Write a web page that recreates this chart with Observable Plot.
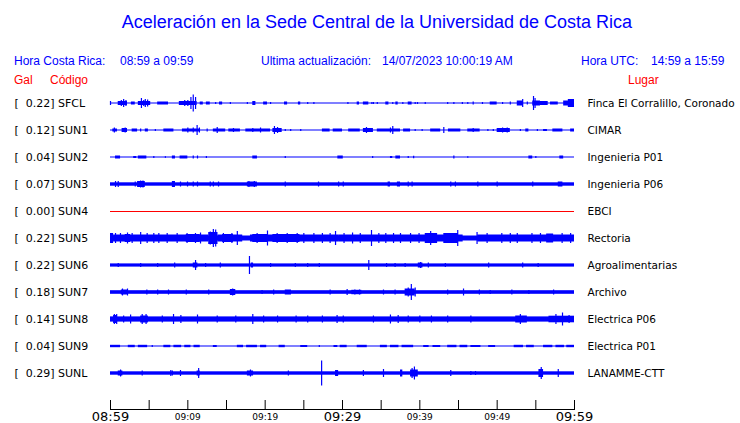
<!DOCTYPE html>
<html><head><meta charset="utf-8">
<script src="https://cdn.jsdelivr.net/npm/d3@7"></script>
<script src="https://cdn.jsdelivr.net/npm/@observablehq/plot@0.6"></script>
<style>
body{margin:0;background:#fff;}
#wrap{position:relative;width:740px;height:423px;overflow:hidden;font-family:"Liberation Sans",Arial,sans-serif;}
.t{position:absolute;white-space:pre;line-height:1;font-size:12px;}
.b{color:#0000ff;} .r{color:#ff0000;}
</style></head><body><div id="wrap"></div>
<script>
// ---- data ----
const title = "Aceleración en la Sede Central de la Universidad de Costa Rica";
const codes = ["SFCL","SUN1","SUN2","SUN3","SUN4","SUN5","SUN6","SUN7","SUN8","SUN9","SUNL"];
const gal = [0.22,0.12,0.04,0.07,0.00,0.22,0.22,0.18,0.14,0.04,0.29];
const places = ["Finca El Corralillo, Coronado","CIMAR","Ingenieria P01","Ingenieria P06","EBCI","Rectoria","Agroalimentarias","Archivo","Electrica P06","Electrica P01","LANAMME-CTT"];
// background trace half-amplitude (counts), per station
const floorAmp = [0.5,0.5,0.5,1.7,0,2.5,1.6,1.8,2.6,0.5,1.7];
const deadStations = ["SUN4"];
// tick positions in minutes after 08:59
const tickMinutes = [0,5,10,15,20,25,30,35,40,45,50,55,60];
const majorMinutes = [0,30,60];
const majorLabels = ["08:59","09:29","09:59"];
const minorMinutes = [10,20,40,50];
const minorLabels = ["09:09","09:19","09:39","09:49"];
// events: [t0, t1, amp] = burst between minutes, [t, amp] = single spike
const sfcl = [[0,2],[1.0,2.2,2],[1.4,3],[1.7,4],[2.0,3],[2.7,3.2,1.5],[3.6,5.2,2],[4.0,5],[4.3,3],[4.5,4],[4.8,3.5],
 [6.1,7.5,1.5],[8.9,11.2,2],[9.6,3],[10.0,3],[10.4,6],[10.7,8.5],[11.0,6],[11.6,12.0,1.5],[12.4,12.9,1.5],[13.6,1],
 [14.1,14.5,1.5],[15.5,1],[17.7,1],[18.4,18.8,2],[19.8,20.3,1.5],[20.7,1],[22.5,22.9,1.5],[24.3,24.6,1.5],[25.5,1],[26.3,1],
 [30.7,1],[31.9,32.2,1.5],[32.7,33.4,1.5],[33.8,1],[34.0,1],[34.5,1],[35.6,36.0,1.5],[36.5,1],[36.9,37.2,1.5],[37.8,1],
 [38.5,39.0,1.5],[39.4,1],[39.7,1],[40.7,1],[43.6,1],[44.4,1],[45.5,1],[46.2,1],[46.9,1.5],[48.1,1],[49.1,50.0,1.5],
 [50.7,1],[51.7,1.5],[52.6,53.4,2.5],[53.3,4],[53.9,1.5],[54.6,55.6,2.5],[54.7,7],[54.9,5],[55.6,56.6,2],[56.9,57.9,1.5],
 [58.6,60,2.5],[59.2,60,4]];
const sun1 = [[0.3,0.9,1.5],[0.5,2.5],[1.5,2.2,2],[1.9,2.5],[2.8,3.5,1.5],[3.9,1.5],[4.5,4.9,1.5],[5.8,1],[6.9,8.2,1.5],
 [9.3,11.6,1.5],[10.0,2.5],[10.7,2.5],[11.2,5],[11.5,2.5],[12.5,1.5],[13.3,14.9,1.5],[13.8,3],[15.3,16.8,1.5],[15.9,2],
 [17.5,20.7,1.5],[18.4,2],[19.4,2.5],[21.0,22.2,2],[21.2,4],[21.6,3],[22.6,1],[23.3,1],[24.6,1],[27.4,28.4,1.5],[28.8,30.0,1.5],
 [30.8,32.3,1.5],[32.7,34.0,2],[33.1,3],[34.5,37.5,1.5],[36.2,2.5],[36.5,4],[37.9,38.8,1.5],[39.4,1],[40.3,1],[41.4,42.7,1.5],
 [43.1,3],[43.7,45.3,1.5],[46.2,47.8,1.5],[46.9,2],[48.8,1],[49.5,1],[50.0,51.7,2],[50.7,2.5],[51.3,2.5],[53.0,1],
 [53.7,54.1,1.5],[55.2,1],[56.0,56.5,1],[57.2,58.5,1.5],[59.5,60,1.5]];
const sun2 = [[0.65,1.3,1.5],[3.0,3.4,1],[3.6,4.7,1.5],[5.6,1],[7.1,0.8],[8.0,8.4,1.5],[9.0,10.0,1.5],[10.7,1.5],[11.25,1.5],
 [12.4,1],[18.4,19.0,1.5],[22.6,1],[29.4,30.1,1.5],[33.9,1],[36.2,36.5,1],[36.9,37.5,1.5],[38.5,1],[39.2,1.2],[44.4,1.5],
 [46.2,0.8],[54.1,54.6,1.5],[55.0,1],[58.1,58.6,1.5]];
const sun3 = [[0.65,3],[1.0,3],[3.2,2.5],[3.5,4.5,3],[3.9,3.5],[4.2,3.5],[8.0,8.4,3],[9.05,2.5],[9.96,2.5],[10.7,2.5],[11.25,2.5],
 [12.9,2.5],[13.3,2.5],[13.97,2.5],[17.7,19.0,2.5],[17.9,3],[18.6,3],[22.6,2.5],[26.9,2.5],[29.5,2.5],[30.1,2.5],[35.9,36.2,2.5],
 [37.1,37.5,2.5],[38.5,2.5],[39.0,2.5],[44.0,2.5],[44.6,2.5],[47.5,2.5],[50.0,2.5],[54.6,2.5],[57.9,58.5,2.5]];
const sun4 = [];
const sun5 = [[0,0.4,5],[0.4,12.7,3.5],[1.9,2.6,4],[0.65,5],[1.29,5],[2.2,5.5],[2.8,5],[3.9,6],[4.74,5],[5.6,5],[6.25,5],[7.33,5],
 [8.62,5],[9.8,11.6,4],[9.9,5],[10.99,5],[11.64,5.5],[12.7,13.9,6],[12.9,6.5],[13.3,9],[13.6,8.5],[13.9,17.1,3.5],[14.5,15.9,4],
 [14.6,5],[15.7,5],[16.4,7],[18.1,29.5,3.5],[18.4,20.3,4],[18.96,5],[20.3,7.5],[21.0,24.5,4],[21.55,5],[22.85,5],[24.14,5],
 [25.0,5],[26.3,5],[27.4,5],[28.4,5],[29.1,7],[29.5,45.6,3.5],[30.2,5],[31.3,5.5],[32.3,5],[33.75,8],[34.7,5],[35.6,5],[36.6,5],
 [37.5,5],[38.8,5],[39.9,5],[40.7,42.3,5],[41.4,7],[43.1,45.0,5],[44.9,8],[47.4,6],[47.5,60,3.5],[48.7,5],[50.6,5],[51.7,5],
 [52.6,5],[54.5,5],[55.6,5],[56.4,57.3,4.5],[58.4,5],[59.5,5]];
const sun6 = [[1.0,2],[3.9,2],[6.1,2],[8.3,2.5],[10.7,11.3,2.5],[11.0,5],[12.3,2],[14.2,2.5],[17.97,9],[18.2,18.5,2.5],[20.7,2],
 [23.9,2],[25.5,2],[27.0,2],[33.4,5],[35.7,2],[36.8,2],[38.1,2],[39.8,40.4,2.5],[40.1,3],[41.1,2.5],[43.3,2],[48.9,2.5],
 [53.3,2.5],[55.3,2]];
const sun7 = [[1.4,2.3,2.5],[1.55,3.5],[2.2,3.5],[4.7,2.5],[6.1,2.5],[7.5,2.5],[9.8,2.5],[12.7,2.5],[15.5,16.2,3],[15.8,3.5],
 [19.6,2],[21.1,2.5],[22.6,23.4,2.5],[28.4,2.5],[30.6,3],[31.2,32.5,2.2],[31.6,2.5],[32.2,2.5],[35.3,2.5],[36.8,2.5],
 [38.1,39.4,3.5],[38.5,4.5],[38.9,8],[39.4,4.5],[43.6,2.5],[45.65,3.5],[47.7,2.5],[49.1,2],[51.9,2.5],[54.1,2],[57.3,2.5]];
const sun8 = [[0.4,0.9,4],[0.5,5],[0.8,5],[1.7,3.5],[2.6,4.5],[3.9,4.9,3.5],[4.1,5],[4.6,5],[6.7,3.5],[8.15,5],[9.1,4],
 [11.25,4.5],[13.8,3.5],[16.2,3.5],[18.4,5],[19.8,3.5],[21.6,3.5],[24.0,3.5],[25.5,3.5],[27.4,3.5],[29.3,4],[30.1,3.5],
 [34.0,3.5],[36.2,4.5],[37.2,4],[38.5,3.5],[40.0,3.5],[41.5,3.5],[43.6,3.5],[46.6,3.5],[52.4,53.9,3.5],[53.0,5],
 [56.7,60,3.3],[57.6,5],[58.45,6.5],[59.3,4]];
const sun9 = [[0,1.3,1.2],[2.3,3.2,1.2],[3.6,4.8,1.2],[5.4,1],[6.9,7.8,1.2],[8.2,9.2,1.2],[9.6,10.4,1.2],[10.8,11.6,1.2],
 [13.3,13.8,1],[16.4,17.2,1.2],[17.6,19.0,1.2],[19.4,20.2,1.2],[21.8,22.6,1.2],[24.6,25.5,1],[27.0,1],[28.9,29.4,1],
 [29.7,30.6,1.2],[31.9,33.2,1.2],[34.9,35.8,1.2],[36.2,37.3,1.2],[37.7,39.2,1.2],[40.5,41.2,1],[41.7,42.7,1],[43.6,44.8,1.2],
 [45.2,46.2,1.2],[46.6,47.9,1],[48.9,49.8,1],[52.2,53.4,1.2],[53.8,54.8,1.2],[56.0,57.2,1.2],[57.6,58.7,1.2],[59.0,60,1.2]];
const sunl = [[1.0,1.6,2.5],[1.3,3.5],[4.1,2.5],[7.8,3],[8.0,2.5],[9.05,3],[11.2,11.6,2.5],[11.4,5],[17.7,18.5,2.5],[18.1,3.5],
 [23.0,2.5],[27.3,12.5],[29.1,29.5,3],[32.7,3],[35.3,4],[37.5,37.8,3.5],[38.8,39.8,3.5],[39.0,5],[39.3,6.5],[44.0,3],
 [46.6,2],[47.2,2],[55.4,56.0,4],[55.7,6],[57.9,4]];
const traces = [sfcl,sun1,sun2,sun3,sun4,sun5,sun6,sun7,sun8,sun9,sunl];

// ---- build tables ----
const countsPerRow = 27;
const blue = "#0000ff";
const rows = codes.map((code,i) => ({row:i, code, gal:gal[i], place:places[i], floor:floorAmp[i], dead:deadStations.includes(code)}));
const bursts = [], spikes = [];
traces.forEach((ev,i) => ev.forEach(e => {
  if (e.length === 3) bursts.push({row:i, t0:e[0], t1:e[1], a:e[2]});
  else spikes.push({row:i, t:e[0], a:e[1]});
}));
const live = rows.filter(d => !d.dead);
const dead = rows.filter(d => d.dead);

const chart = Plot.plot({
  width: 740, height: 423,
  marginLeft: 110, marginRight: 166, marginTop: 0, marginBottom: 14,
  x: {domain: [0, 60], range: [110, 574]},
  y: {domain: [0, 10], range: [103, 373], axis: null},
  style: {fontFamily: "DejaVu Sans", background: "transparent", color: "black"},
  marks: [
    Plot.rect(live, {x1: () => 0, x2: () => 60, y1: d => d.row - d.floor / countsPerRow, y2: d => d.row + d.floor / countsPerRow, fill: blue}),
    Plot.ruleY(dead, {y: "row", stroke: "#ff0000", strokeWidth: 1}),
    Plot.rect(bursts, {x1: "t0", x2: "t1", y1: d => d.row - d.a / countsPerRow, y2: d => d.row + d.a / countsPerRow, fill: blue}),
    Plot.ruleX(spikes, {x: "t", y1: d => d.row - d.a / countsPerRow, y2: d => d.row + d.a / countsPerRow, stroke: blue, strokeWidth: 1.2}),
    Plot.text(rows, {y: "row", frameAnchor: "left", dx: -96, textAnchor: "start", fontSize: 11, fill: "black",
      text: d => `[\u00a0\u00a0${d.gal.toFixed(2)}] ${d.code}`}),
    Plot.text(rows, {y: "row", frameAnchor: "right", dx: 13, textAnchor: "start", fontSize: 10.5, fill: "black", text: "place"}),
    Plot.frame({anchor: "bottom", stroke: "black"}),
    Plot.axisX(tickMinutes, {anchor: "bottom", tickSize: 9, dy: -9, tickFormat: () => "", label: null}),
    Plot.axisX(majorMinutes, {anchor: "bottom", tickSize: 0, tickPadding: 2, fontSize: 13, label: null,
      tickFormat: d => majorLabels[majorMinutes.indexOf(d)]}),
    Plot.axisX(minorMinutes, {anchor: "bottom", tickSize: 0, tickPadding: 4, fontSize: 9, label: null,
      tickFormat: d => minorLabels[minorMinutes.indexOf(d)]})
  ]
});
const wrap = document.getElementById("wrap");
chart.style.position = "absolute"; chart.style.left = "0"; chart.style.top = "0";
wrap.appendChild(chart);

const header = [
  {text: title, cls: "b", left: 0, top: 13, size: 18, center: true},
  {text: "Hora Costa Rica:", cls: "b", left: 14, top: 55},
  {text: "08:59 a 09:59", cls: "b", left: 120, top: 55},
  {text: "Ultima actualización:", cls: "b", left: 261, top: 55},
  {text: "14/07/2023 10:00:19 AM", cls: "b", left: 382, top: 55},
  {text: "Hora UTC:", cls: "b", left: 581, top: 55},
  {text: "14:59 a 15:59", cls: "b", left: 651, top: 55},
  {text: "Gal", cls: "r", left: 14, top: 74},
  {text: "Código", cls: "r", left: 50, top: 74},
  {text: "Lugar", cls: "r", left: 628, top: 74}
];
for (const h of header) {
  const el = document.createElement("div");
  el.className = "t " + h.cls;
  el.textContent = h.text;
  el.style.top = h.top + "px";
  if (h.center) { el.style.left = "7px"; el.style.width = "740px"; el.style.textAlign = "center"; }
  else el.style.left = h.left + "px";
  if (h.size) el.style.fontSize = h.size + "px";
  wrap.appendChild(el);
}
</script></body></html>
